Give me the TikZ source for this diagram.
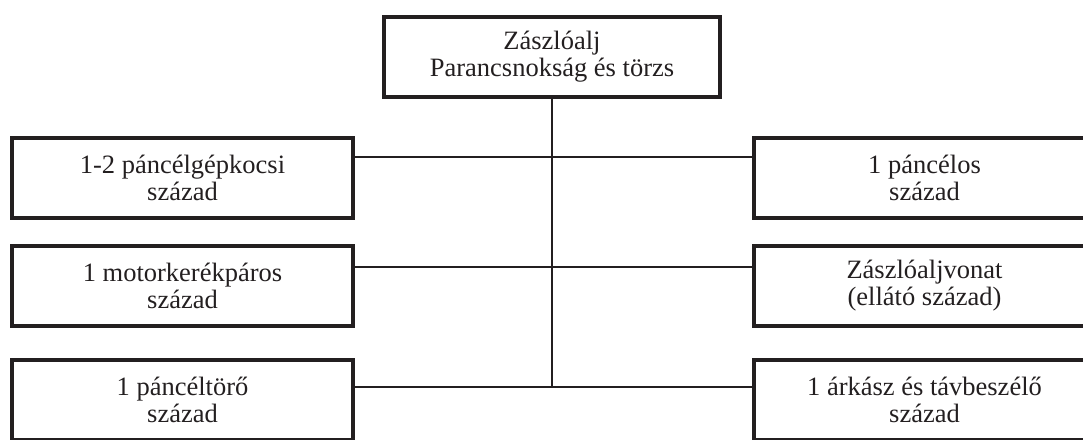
\documentclass[tikz,border=0pt]{standalone}
\usepackage{fontspec}
\setmainfont{Liberation Serif}
\usepackage{tikz}
\usetikzlibrary{positioning}
\definecolor{inkblack}{RGB}{35,31,32}
\tikzstyle{unit} = [draw=inkblack, line width=4pt, minimum width=341pt, minimum height=80pt, inner sep=0pt, align=center, text=inkblack]
\tikzstyle{link} = [draw=inkblack, line width=2.5pt]

\begin{document}
\begin{tikzpicture}[x=1pt, y=-1pt, font=\fontsize{26.5}{27}\selectfont]
                        \useasboundingbox (0,0) rectangle (1083,439);
                        \clip (0,0) rectangle (1083,439);
                        \node (hq) [unit, minimum width=336pt] at (552,57) {Zászlóalj\\Parancsnokság és törzs};
                        \node (l1) [unit] at (182.5,177.5) {1-2 páncélgépkocsi\\század};
                        \node (l2) [unit] at (182.5,286) {1 motorkerékpáros\\század};
                        \node (l3) [unit] at (182.5,400) {1 páncéltörő\\század};
                        \node (r1) [unit] at (924.5,177.5) {1 páncélos\\század};
                        \node (r2) [unit] at (924.5,286) {Zászlóaljvonat\\(ellátó század)};
                        \node (r3) [unit] at (924.5,400) {1 árkász és távbeszélő\\század};
                        \coordinate (j1) at (552,157);
                        \coordinate (j2) at (552,267);
                        \coordinate (j3) at (552,387);
                        \draw (hq.south) [link] -- (j3);
                        \draw (l1.east |- j1) [link] -- (r1.west |- j1);
                        \draw (l2.east |- j2) [link] -- (r2.west |- j2);
                        \draw (l3.east |- j3) [link] -- (r3.west |- j3);
                    \end{tikzpicture}
\end{document}
